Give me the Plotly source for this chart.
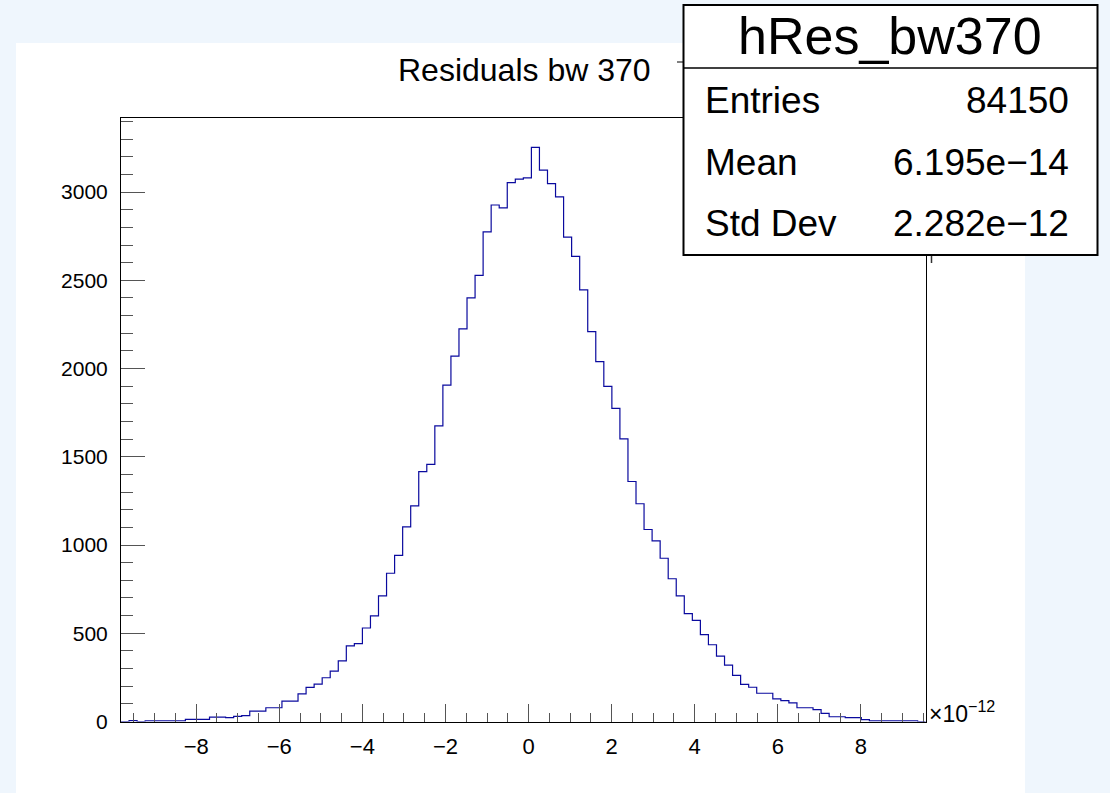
import plotly.graph_objects as go
import numpy as np

# ---------------- data ----------------
TITLE = "Residuals bw 370"
HIST_NAME = "hRes_bw370"
STAT_LABELS = ["Entries", "Mean", "Std Dev"]
STAT_VALUES = ["84150", "6.195e\u221214", "2.282e\u221212"]

XMIN, XMAX = -9.81, 9.56       # axis range in units of 1e-12
NBINS = 100
counts = [0, 5, 0, 3, 3, 4, 3, 4, 12, 12,
          12, 25, 25, 22, 29, 33, 59, 59, 78, 78,
          116, 116, 156, 193, 212, 248, 286, 344, 429, 441,
          530, 599, 712, 840, 941, 1103, 1222, 1416, 1457, 1675,
          1906, 2071, 2225, 2401, 2528, 2775, 2927, 2911, 3054, 3074,
          3081, 3253, 3125, 3048, 2973, 2745, 2636, 2446, 2209, 2039,
          1899, 1774, 1602, 1360, 1234, 1088, 1024, 925, 809, 712,
          611, 573, 492, 435, 370, 320, 261, 210, 194, 160,
          160, 128, 118, 106, 78, 78, 67, 46, 27, 27,
          22, 22, 11, 3, 3, 3, 3, 3, 3, 0]
YMAX = 3420

# ---------------- layout helpers ----------------
W, H = 1110, 793
def fx(p):
    return p / W
def fy(p):
    return 1 - p / H

FONT = "Liberation Sans, Arial, Helvetica, sans-serif"
HIST_COLOR = "#0a0a9e"
BG = "#eff6fd"

edges = np.linspace(XMIN, XMAX, NBINS + 1)
xs = list(edges)
ys = list(counts) + [counts[-1]]

fig = go.Figure()
fig.add_trace(go.Scatter(
    x=xs, y=ys, mode="lines",
    line=dict(shape="hv", color=HIST_COLOR, width=1.2),
    hoverinfo="skip", showlegend=False,
))

tick_col = "#555555"
fig.update_layout(
    width=W, height=H,
    margin=dict(l=0, r=0, t=0, b=0),
    paper_bgcolor=BG,
    plot_bgcolor="white",
    showlegend=False,
    xaxis=dict(
        domain=[fx(121), fx(925.7)],
        range=[XMIN, XMAX],
        tick0=0, dtick=2,
        ticks="inside", ticklen=18, tickwidth=1, tickcolor=tick_col,
        minor=dict(tick0=0, dtick=0.5, ticks="inside", ticklen=9,
                   tickwidth=1, tickcolor=tick_col, showgrid=False),
        showline=True, linecolor="black", linewidth=1, mirror=True,
        showgrid=False, zeroline=False,
        tickfont=dict(family=FONT, size=22, color="black"),
        ticklabelstandoff=5,
        automargin=False,
        fixedrange=True,
    ),
    yaxis=dict(
        domain=[fy(721.5), fy(118)],
        range=[0, YMAX],
        tick0=0, dtick=500,
        ticks="inside", ticklen=24, tickwidth=1, tickcolor=tick_col,
        minor=dict(tick0=0, dtick=100, ticks="inside", ticklen=12,
                   tickwidth=1, tickcolor=tick_col, showgrid=False),
        showline=True, linecolor="black", linewidth=1, mirror=True,
        showgrid=False, zeroline=False,
        tickformat="d",
        tickfont=dict(family=FONT, size=21, color="black"),
        ticklabelstandoff=8,
        automargin=False,
        fixedrange=True,
    ),
)

shapes = []
# white canvas
shapes.append(dict(type="rect", xref="paper", yref="paper",
                   x0=fx(16), x1=fx(1025), y0=fy(793), y1=fy(43),
                   fillcolor="white", line=dict(width=0), layer="below"))
# small frame remnants peeking from under the stats box
shapes.append(dict(type="line", xref="paper", yref="paper",
                   x0=fx(677), x1=fx(684), y0=fy(62), y1=fy(62),
                   line=dict(color="black", width=1), layer="above"))
shapes.append(dict(type="line", xref="paper", yref="paper",
                   x0=fx(931.5), x1=fx(931.5), y0=fy(255), y1=fy(263),
                   line=dict(color="#333333", width=1.5), layer="above"))
# stats box
shapes.append(dict(type="rect", xref="paper", yref="paper",
                   x0=fx(683.5), x1=fx(1097.5), y0=fy(255), y1=fy(5),
                   fillcolor="white", line=dict(color="black", width=2),
                   layer="above"))
shapes.append(dict(type="line", xref="paper", yref="paper",
                   x0=fx(683.5), x1=fx(1097.5), y0=fy(68), y1=fy(68),
                   line=dict(color="black", width=1.5), layer="above"))
fig.update_layout(shapes=shapes)

ann = []
ann.append(dict(text=TITLE, x=fx(524), y=fy(70), xref="paper", yref="paper",
                xanchor="center", yanchor="middle", showarrow=False,
                font=dict(family=FONT, size=32, color="black")))
ann.append(dict(text=HIST_NAME, x=fx(890), y=fy(36), xref="paper", yref="paper",
                xanchor="center", yanchor="middle", showarrow=False,
                font=dict(family=FONT, size=52, color="black")))
row_y = [100, 162, 224]
for lab, val, yy in zip(STAT_LABELS, STAT_VALUES, row_y):
    ann.append(dict(text=lab, x=fx(703), y=fy(yy), xref="paper", yref="paper",
                    xanchor="left", yanchor="middle", showarrow=False,
                    font=dict(family=FONT, size=37, color="black")))
    ann.append(dict(text=val, x=fx(1071), y=fy(yy), xref="paper", yref="paper",
                    xanchor="right", yanchor="middle", showarrow=False,
                    font=dict(family=FONT, size=37, color="black")))
ann.append(dict(text="\u00d710<sup>\u221212</sup>", x=fx(927), y=fy(712),
                xref="paper", yref="paper", xanchor="left", yanchor="middle",
                showarrow=False, font=dict(family=FONT, size=23, color="black")))
fig.update_layout(annotations=ann)

fig.write_html("out.html", config=dict(displayModeBar=False, staticPlot=True))
